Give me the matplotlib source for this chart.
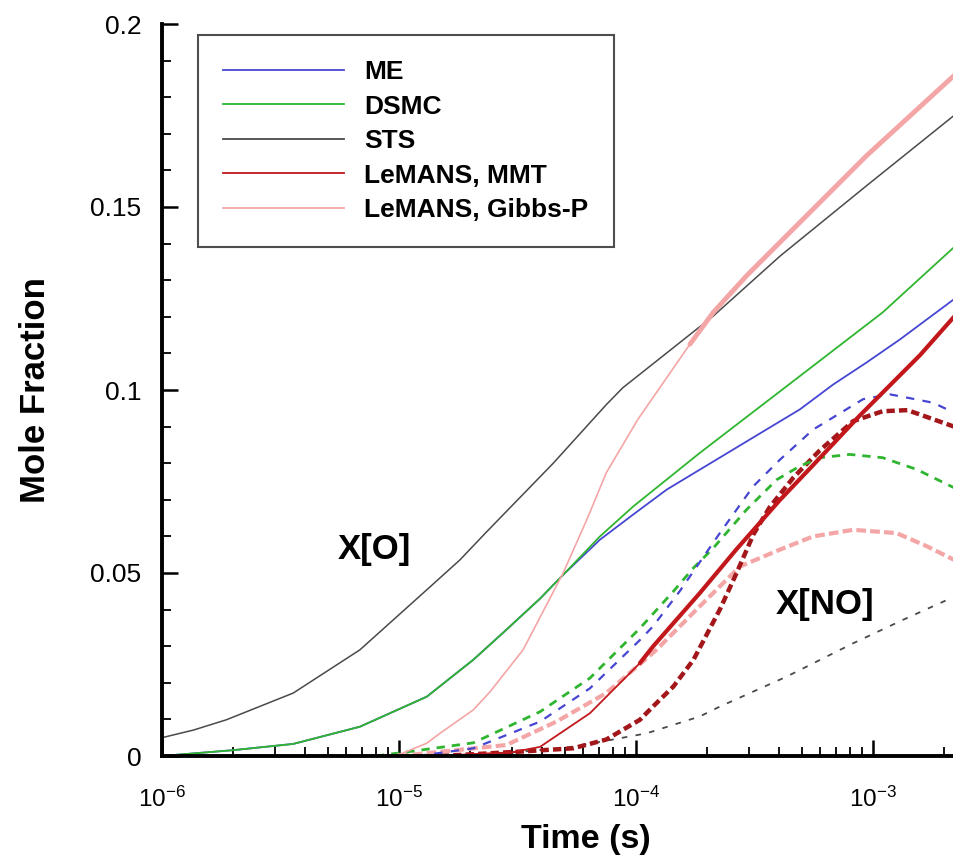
import matplotlib
matplotlib.use("Agg")
import matplotlib.pyplot as plt
from matplotlib.lines import Line2D
from matplotlib.ticker import FixedLocator, NullFormatter
import numpy as np

plt.rcParams['font.family'] = ['Liberation Sans', 'DejaVu Sans']
plt.rcParams['mathtext.fontset'] = 'custom'
plt.rcParams['mathtext.rm'] = 'Liberation Sans'
plt.rcParams['lines.scale_dashes'] = False

# ---------------- data ----------------
# X[O]  (solid lines)
t_sts_o = [1.0e-6, 1.36e-6, 1.87e-6, 3.58e-6, 6.84e-6, 1.31e-5, 1.81e-5, 2.34e-5,
           4.48e-5, 7.5e-5, 8.8e-5, 2.12e-4, 4.06e-4, 9.4e-4, 2.2e-3]
y_sts_o = [0.0050, 0.0071, 0.0099, 0.0172, 0.0290, 0.0454, 0.0536, 0.0612,
           0.0800, 0.0960, 0.1006, 0.1202, 0.1366, 0.1558, 0.1750]

t_me_o = [1.0e-6, 2.0e-6, 3.58e-6, 6.84e-6, 1.31e-5, 2.06e-5, 2.84e-5, 3.94e-5, 4.93e-5,
          7.05e-5, 9.75e-5, 1.35e-4, 3.03e-4, 4.92e-4, 6.8e-4, 9.4e-4, 1.3e-3, 2.2e-3]
y_me_o = [0.0, 0.0016, 0.0033, 0.0080, 0.0162, 0.0263, 0.0345, 0.0430, 0.0495,
          0.0591, 0.0660, 0.0728, 0.0865, 0.0947, 0.1015, 0.1075, 0.1138, 0.1248]

t_dsmc_o = [1.0e-6, 2.0e-6, 3.58e-6, 6.84e-6, 1.31e-5, 2.06e-5, 2.84e-5, 3.94e-5, 4.93e-5,
            7.05e-5, 9.75e-5, 1.86e-4, 4.92e-4, 1.1e-3, 2.2e-3]
y_dsmc_o = [0.0, 0.0016, 0.0033, 0.0080, 0.0162, 0.0263, 0.0345, 0.0430, 0.0495,
            0.0600, 0.0682, 0.0828, 0.1038, 0.1212, 0.1390]

t_mmt_o = [1.5e-5, 2.0e-5, 3.0e-5, 3.94e-5, 6.4e-5, 1.04e-4, 1.18e-4, 1.44e-4, 1.86e-4,
           2.65e-4, 4.06e-4, 5.6e-4, 8.8e-4, 1.58e-3, 2.2e-3]
y_mmt_o = [0.0, 0.0005, 0.0010, 0.0025, 0.0117, 0.0254, 0.0299, 0.0363, 0.0445,
           0.0564, 0.0700, 0.0795, 0.0930, 0.1095, 0.1200]

t_gibbs_o = [9.2e-6, 1.03e-5, 1.31e-5, 1.49e-5, 2.06e-5, 2.42e-5, 3.34e-5, 4.93e-5, 6.2e-5,
             7.5e-5, 1.02e-4, 1.69e-4, 2.12e-4, 2.93e-4, 4.92e-4, 9.4e-4, 2.2e-3]
y_gibbs_o = [0.0, 0.0007, 0.0035, 0.0062, 0.0126, 0.0175, 0.0290, 0.0500, 0.0645,
             0.0774, 0.0920, 0.1125, 0.1212, 0.1312, 0.1458, 0.1640, 0.1859]

# X[NO]  (dashed lines)
t_me_no = [1.2e-5, 2.06e-5, 3.94e-5, 6.4e-5, 1.04e-4, 1.18e-4, 1.53e-4, 2.26e-4, 3.13e-4,
           4.06e-4, 5.6e-4, 9.1e-4, 1.18e-3, 1.3e-3, 1.8e-3, 2.2e-3]
y_me_no = [0.0, 0.0021, 0.0094, 0.0185, 0.0317, 0.0354, 0.0450, 0.0609, 0.0737,
           0.0810, 0.0892, 0.0975, 0.0988, 0.0983, 0.0965, 0.0938]

t_dsmc_no = [8.0e-6, 1.23e-5, 2.06e-5, 3.94e-5, 6.4e-5, 1.04e-4, 1.44e-4, 1.75e-4, 2.12e-4,
             2.93e-4, 3.93e-4, 4.92e-4, 5.97e-4, 8.0e-4, 1.1e-3, 1.53e-3, 2.2e-3]
y_dsmc_no = [0.0, 0.0016, 0.0036, 0.0121, 0.0213, 0.0349, 0.0450, 0.0514, 0.0568,
             0.0673, 0.0755, 0.0792, 0.0815, 0.0824, 0.0815, 0.0783, 0.0733]

t_sts_no = [2.0e-5, 5.0e-5, 8.0e-5, 1.11e-4, 1.86e-4, 2.26e-4, 4.33e-4, 8.26e-4, 1.34e-3, 2.2e-3]
y_sts_no = [0.0, 0.0022, 0.0045, 0.0062, 0.0108, 0.0135, 0.0217, 0.0308, 0.0372, 0.0435]

t_mmt_no = [1.5e-5, 3.24e-5, 5.43e-5, 7.5e-5, 1.04e-4, 1.18e-4, 1.44e-4, 1.75e-4, 2.26e-4,
            2.66e-4, 3.13e-4, 3.67e-4, 4.61e-4, 5.97e-4, 8.26e-4, 1.1e-3, 1.4e-3, 2.2e-3]
y_mmt_no = [0.0, 0.0012, 0.0021, 0.0045, 0.0099, 0.0135, 0.0190, 0.0263, 0.0400,
            0.0500, 0.0605, 0.0680, 0.0760, 0.0835, 0.0915, 0.0942, 0.0945, 0.0900]

t_gibbs_no = [1.0e-5, 2.84e-5, 4.62e-5, 7.5e-5, 1.22e-4, 1.86e-4, 2.75e-4, 4.06e-4,
              5.6e-4, 8.26e-4, 1.26e-3, 1.69e-3, 2.2e-3]
y_gibbs_no = [0.0, 0.0030, 0.0094, 0.0172, 0.0290, 0.0409, 0.0518, 0.0564,
              0.0600, 0.0618, 0.0609, 0.0573, 0.0536]

legend_labels = ['ME', 'DSMC', 'STS', 'LeMANS, MMT', 'LeMANS, Gibbs-P']
x_major = [1e-6, 1e-5, 1e-4, 1e-3]
x_major_labels = [r'$\mathregular{10^{-6}}$', r'$\mathregular{10^{-5}}$',
                  r'$\mathregular{10^{-4}}$', r'$\mathregular{10^{-3}}$']
y_major = [0, 0.05, 0.1, 0.15, 0.2]
y_major_labels = ['0', '0.05', '0.1', '0.15', '0.2']

# ---------------- style ----------------
c_me = '#4646d2'
c_dsmc = '#2fb52f'
c_sts = '#4a4a4a'
c_mmt = '#c2181c'
c_mmt_d = '#a3161a'
c_gibbs = '#f4a6a6'

fig = plt.figure(figsize=(9.54, 8.64), dpi=100)
ax = fig.add_axes([162/954, 108/864, 792/954, 732/864])

# NO dashed
ax.plot(t_sts_no, y_sts_no, color=c_sts, lw=1.3, dashes=(4, 6))
ax.plot(t_gibbs_no, y_gibbs_no, color=c_gibbs, lw=3.0, dashes=(7, 3))
ax.plot(t_mmt_no, y_mmt_no, color=c_mmt_d, lw=3.2, dashes=(6, 3))
ax.plot(t_dsmc_no, y_dsmc_no, color=c_dsmc, lw=2.0, dashes=(6, 5))
ax.plot(t_me_no, y_me_no, color=c_me, lw=1.6, dashes=(6, 6))

# O solid
ax.plot(t_sts_o, y_sts_o, color=c_sts, lw=1.1)
ax.plot(t_me_o, y_me_o, color=c_me, lw=1.3)
ax.plot(t_dsmc_o, y_dsmc_o, color=c_dsmc, lw=1.3)
ax.plot(t_gibbs_o, y_gibbs_o, color=c_gibbs, lw=1.2)
tg = np.array(t_gibbs_o); yg = np.array(y_gibbs_o)
ax.plot(tg[tg >= 1.69e-4], yg[tg >= 1.69e-4], color=c_gibbs, lw=3.5, solid_capstyle='round')
ax.plot(t_mmt_o, y_mmt_o, color=c_mmt, lw=1.3)
tm = np.array(t_mmt_o); ym = np.array(y_mmt_o)
ax.plot(tm[tm >= 1.04e-4], ym[tm >= 1.04e-4], color=c_mmt, lw=3.0, solid_capstyle='round')

ax.set_xscale('log')
ax.set_xlim(1e-6, 2.2e-3)
ax.set_ylim(0, 0.2)

for s in ['top', 'right']:
    ax.spines[s].set_visible(False)
for s in ['left', 'bottom']:
    ax.spines[s].set_linewidth(2.8)

ax.xaxis.set_major_locator(FixedLocator(x_major))
ax.set_xticklabels(x_major_labels)
minors = [m * d for d in [1e-6, 1e-5, 1e-4, 1e-3] for m in range(2, 10)]
ax.xaxis.set_minor_locator(FixedLocator(minors))
ax.xaxis.set_minor_formatter(NullFormatter())
ax.set_yticks(y_major)
ax.set_yticklabels(y_major_labels)
ax.yaxis.set_minor_locator(FixedLocator([i / 100 for i in range(0, 21)]))

ax.tick_params(which='major', direction='in', length=11.5, width=1.8,
               top=False, right=False)
ax.tick_params(which='minor', direction='in', length=6.5, width=1.3, top=False, right=False)
ax.tick_params(axis='y', which='major', labelsize=19, pad=15)
ax.tick_params(axis='x', which='major', labelsize=17.5, pad=22)

ax.set_xlabel('Time (s)', fontsize=24.5, fontweight='bold')
ax.xaxis.set_label_coords((586 - 162) / 792, -0.093)
ax.set_ylabel('Mole Fraction', fontsize=25, fontweight='bold')
ax.yaxis.set_label_coords(-0.139, 0.5)

ax.text(7.85e-6, 0.0564, 'X[O]', fontsize=25, fontweight='bold', ha='center', va='center')
ax.text(6.3e-4, 0.0413, 'X[NO]', fontsize=25, fontweight='bold', ha='center', va='center')

handles = [Line2D([], [], color=c, lw=1.3) for c in [c_me, c_dsmc, c_sts, c_mmt, c_gibbs]]
leg = ax.legend(handles, legend_labels, loc='upper left',
                bbox_to_anchor=((198 - 162) / 792, (756 - 35) / 732),
                prop={'size': 19, 'weight': 'bold'}, frameon=True, fancybox=False,
                edgecolor='#222222', handlelength=4.6, handletextpad=0.75,
                labelspacing=0.4, borderpad=0.95, borderaxespad=0.0)
leg.get_frame().set_linewidth(1.5)

fig.savefig('out.png', dpi=100)
